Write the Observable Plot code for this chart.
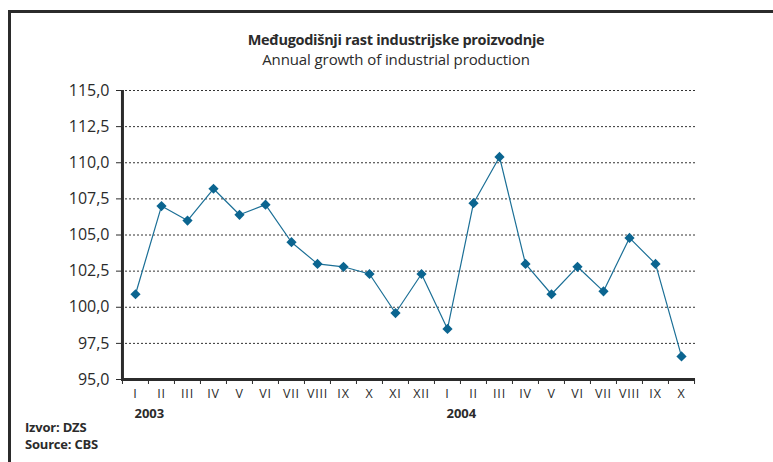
<!DOCTYPE html>
<html>
<head>
<meta charset="utf-8">
<script src="https://cdn.jsdelivr.net/npm/d3@7"></script>
<script src="https://cdn.jsdelivr.net/npm/@observablehq/plot@0.6"></script>
<style>
  html, body { margin: 0; padding: 0; background: #fff; }
  #wrap { position: relative; width: 773px; height: 462px; overflow: hidden; font-family: "Open Sans", "Noto Sans", sans-serif; color: #2b2b2b; }
  #frame { position: absolute; left: 8px; top: 10px; width: 780px; height: 470px; border-top: 3px solid #2b2b2b; border-left: 3px solid #2b2b2b; box-sizing: border-box; }
  #title { position: absolute; left: 0; width: 792px; top: 30px; text-align: center; font-size: 14.5px; font-weight: bold; letter-spacing: -0.3px; white-space: nowrap; }
  #subtitle { position: absolute; left: 0; width: 792px; top: 49px; text-align: center; font-size: 15px; letter-spacing: -0.1px; white-space: nowrap; }
  #source { position: absolute; left: 25px; top: 419px; font-size: 13px; font-weight: bold; line-height: 17px; letter-spacing: -0.2px; }
  #chart { position: absolute; left: 0; top: 0; }
</style>
</head>
<body>
<div id="wrap">
  <div id="frame"></div>
  <div id="title">Međugodišnji rast industrijske proizvodnje</div>
  <div id="subtitle">Annual growth of industrial production</div>
  <div id="chart"></div>
  <div id="source">Izvor: DZS<br>Source: CBS</div>
</div>
<script>
const years = ["2003", "2004"];
const months2003 = ["I","II","III","IV","V","VI","VII","VIII","IX","X","XI","XII"];
const months2004 = ["I","II","III","IV","V","VI","VII","VIII","IX","X"];
const values2003 = [100.9, 107.0, 106.0, 108.2, 106.4, 107.1, 104.5, 103.0, 102.8, 102.3, 99.6, 102.3];
const values2004 = [98.5, 107.2, 110.4, 103.0, 100.9, 102.8, 101.1, 104.8, 103.0, 96.6];
const yTicks = [95, 97.5, 100, 102.5, 105, 107.5, 110, 112.5, 115];

const data = [
  ...months2003.map((m, i) => ({key: years[0] + "-" + m, year: years[0], month: m, value: values2003[i]})),
  ...months2004.map((m, i) => ({key: years[1] + "-" + m, year: years[1], month: m, value: values2004[i]}))
];
const keys = data.map(d => d.key);
const yearStarts = years.map(y => ({year: y, key: data.find(d => d.year === y).key}));

const W = 773, H = 462, mL = 121, mR = 78, mT = 90, mB = 83;
const half = (W - mL - mR) / keys.length / 2;

const chart = Plot.plot({
  width: W, height: H,
  marginLeft: mL, marginRight: mR, marginTop: mT, marginBottom: mB,
  style: {fontFamily: "'Open Sans', 'Noto Sans', sans-serif", color: "#2b2b2b", background: "transparent", overflow: "visible"},
  x: {type: "band", domain: keys, padding: 0, tickSize: 0, tickPadding: 10, tickFormat: k => k.split("-")[1], label: null},
  y: {domain: [95, 115], ticks: yTicks, tickSize: 5, tickPadding: 7, tickFormat: d => d.toFixed(1).replace(".", ","), label: null},
  marks: [
    Plot.ruleY(yTicks.filter(t => t > 95), {stroke: "#333", strokeDasharray: "2,2", strokeWidth: 1}),
    Plot.ruleX(keys, {dx: -half, y1: 95, y2: 95, insetBottom: -5, stroke: "#2b2b2b", strokeWidth: 1}),
    Plot.ruleX(keys.slice(-1), {dx: half, y1: 95, y2: 95, insetBottom: -5, stroke: "#2b2b2b", strokeWidth: 1}),
    Plot.ruleX(keys.slice(0, 1), {dx: -half, stroke: "#2b2b2b", strokeWidth: 3}),
    Plot.ruleY([95], {stroke: "#2b2b2b", strokeWidth: 3}),
    Plot.line(data, {x: "key", y: "value", stroke: "#1b6f96", strokeWidth: 1.2}),
    Plot.dot(data, {x: "key", y: "value", symbol: "diamond2", r: 4.6, fill: "#0b6590", stroke: "none"}),
    Plot.text(yearStarts, {x: "key", text: "year", frameAnchor: "bottom", dy: 38, dx: -1, textAnchor: "start", fontWeight: "bold", fontSize: 13})
  ]
});
chart.querySelectorAll("g[aria-label='y-axis tick label'] text").forEach(t => t.setAttribute("font-size", "16"));
chart.querySelectorAll("g[aria-label='x-axis tick label'] text").forEach(t => { t.setAttribute("font-size", "12.5"); t.setAttribute("letter-spacing", "0.8"); });
document.getElementById("chart").appendChild(chart);
</script>
</body>
</html>
